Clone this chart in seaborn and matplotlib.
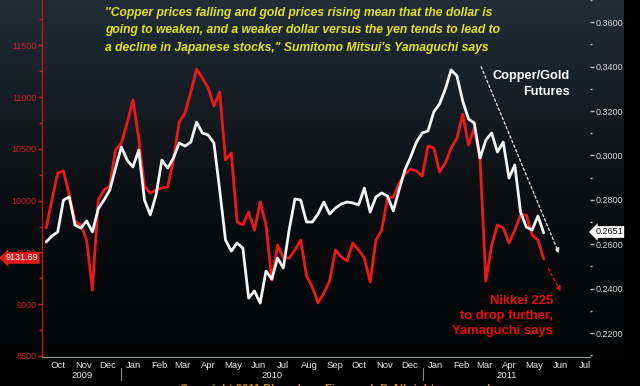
import numpy as np
import pandas as pd
import matplotlib
matplotlib.use("Agg")
import matplotlib.pyplot as plt
import matplotlib.dates as mdates
from matplotlib.colors import LinearSegmentedColormap
from matplotlib.ticker import MultipleLocator, FuncFormatter
import seaborn as sns

# weekly closes
start_date = "2009-10-02"
nikkei = [
    9736, 10006, 10266, 10286, 10054, 9803, 9765, 9620, 9137, 10006,
    10102, 10141, 10488, 10556, 10749, 10971, 10604, 10141, 10073, 10102,
    10122, 10131, 10392, 10759, 10846, 11048, 11270, 11184, 11087, 10913,
    11048, 10392, 10460, 9794, 9765, 9890, 9716, 9987, 9765, 9234,
    9571, 9446, 9446, 9523, 9620, 9272, 9166, 9012, 9108, 9224,
    9523, 9456, 9417, 9591, 9523, 9446, 9214, 9620, 9716, 10025,
    10035, 10170, 10257, 10305, 10286, 10238, 10527, 10508, 10276, 10363,
    10508, 10604, 10836, 10537, 10701, 10392, 9224, 9571, 9765, 9736,
    9591, 9716, 9861, 9861, 9668, 9620, 9436,
]
copper_gold = [
    0.2610, 0.2637, 0.2655, 0.2799, 0.2813, 0.2686, 0.2673, 0.2705, 0.2655, 0.2759,
    0.2799, 0.2844, 0.2943, 0.3038, 0.2979, 0.2948, 0.3024, 0.2799, 0.2732, 0.2822,
    0.2979, 0.2943, 0.2988, 0.3056, 0.3042, 0.3060, 0.3150, 0.3101, 0.3092, 0.3056,
    0.2844, 0.2619, 0.2569, 0.2605, 0.2583, 0.2358, 0.2389, 0.2335, 0.2479, 0.2443,
    0.2538, 0.2493, 0.2664, 0.2804, 0.2799, 0.2700, 0.2700, 0.2736, 0.2790, 0.2736,
    0.2763, 0.2781, 0.2790, 0.2786, 0.2777, 0.2853, 0.2745, 0.2813, 0.2831, 0.2817,
    0.2750, 0.2844, 0.2934, 0.2993, 0.3060, 0.3101, 0.3110, 0.3196, 0.3232, 0.3299,
    0.3385, 0.3358, 0.3245, 0.3164, 0.3146, 0.2988, 0.3069, 0.3101, 0.3015, 0.3060,
    0.2898, 0.2957, 0.2745, 0.2677, 0.2664, 0.2727, 0.2651,
]
nikkei_ticks = [8500, 9000, 9500, 10000, 10500, 11000, 11500]
ratio_ticks = [0.22, 0.24, 0.26, 0.28, 0.30, 0.32, 0.34, 0.36]
years = [2009, 2010, 2011]
last_nikkei_label = "9131.69"
last_ratio_label = "0.2651"

quote_lines = [
    "''Copper prices falling and gold prices rising mean that the dollar is",
    "going to weaken, and a weaker dollar versus the yen tends to lead to",
    "a decline in Japanese stocks,\" Sumitomo Mitsui's Yamaguchi says",
]

dates = pd.date_range(start_date, periods=len(nikkei), freq="7D")
df = pd.DataFrame({"date": dates, "nikkei": nikkei, "copper_gold": copper_gold})

sns.set_style("dark")
plt.rcParams["font.family"] = ["Liberation Sans", "DejaVu Sans"]

W, H = 640, 386
fig = plt.figure(figsize=(6.4, 3.86), dpi=100)
fig.patch.set_facecolor("black")


def px(x, y):
    return x / W, 1 - y / H


# dark gradient background
bg = fig.add_axes([0, 0, 624 / W, 1], zorder=-10)
cmap = LinearSegmentedColormap.from_list("bb", ["#222d36", "#0b0f13", "#000000"])
bg.imshow(np.linspace(0, 1, 256).reshape(-1, 1), cmap=cmap, aspect="auto",
          extent=[0, 1, 0, 1])
bg.set_axis_off()

ax = fig.add_axes([42 / W, 29 / H, 548 / W, 357 / H])
ax.patch.set_alpha(0)
ax2 = ax.twinx()
ax2.patch.set_alpha(0)

sns.lineplot(data=df, x="date", y="nikkei", ax=ax, color="#ea1a1c", linewidth=2)
sns.lineplot(data=df, x="date", y="copper_gold", ax=ax2, color="#f4f4f4", linewidth=2)

ax.set_xlim(pd.Timestamp("2009-09-27"), pd.Timestamp("2011-07-22"))
ax.set_ylim(8490, 11937)
ax2.set_ylim(0.2092, 0.3700)
for a in (ax, ax2):
    a.set_xlabel("")
    a.set_ylabel("")
    a.grid(False)
    for s in a.spines.values():
        s.set_visible(False)

ax.spines["left"].set_visible(True)
ax.spines["left"].set_color("#c01818")
ax.spines["left"].set_linewidth(1)
ax.spines["bottom"].set_visible(True)
ax.spines["bottom"].set_color("#8a8a8a")
ax.spines["bottom"].set_linewidth(1)

# left axis - Nikkei
ax.set_yticks(nikkei_ticks)
ax.yaxis.set_minor_locator(MultipleLocator(250))
ax.yaxis.set_major_formatter(FuncFormatter(lambda v, p: f"{v:.0f}"))
ax.tick_params(axis="y", which="both", direction="out", colors="#c81e1e",
               labelcolor="#d02222", labelsize=6.5, length=3, width=1, pad=1)
ax.tick_params(axis="y", which="minor", length=2)

# right axis - copper/gold
ax2.set_yticks(ratio_ticks)
ax2.yaxis.set_minor_locator(MultipleLocator(0.01))
ax2.yaxis.set_major_formatter(FuncFormatter(lambda v, p: f"{v:.4f}"))
ax2.tick_params(axis="y", which="both", direction="out", colors="#bfbfbf",
                labelcolor="#d8d8d8", labelsize=6.5, length=3, width=1, pad=1)
ax2.tick_params(axis="y", which="minor", length=1.5)

# months on x axis
ax.xaxis.set_major_locator(mdates.MonthLocator(bymonthday=16))
ax.xaxis.set_major_formatter(mdates.DateFormatter("%b"))
ax.xaxis.set_minor_locator(mdates.MonthLocator())
ax.tick_params(axis="x", which="major", length=0, labelsize=6.8,
               labelcolor="#e6e6e6", pad=3)
ax.tick_params(axis="x", which="minor", direction="out", length=2,
               color="#8a8a8a", width=0.8)

xmin, xmax = ax.get_xlim()
trans = ax.get_xaxis_transform()
for yr in years:
    lo = max(mdates.date2num(pd.Timestamp(f"{yr}-01-01")), xmin)
    hi = min(mdates.date2num(pd.Timestamp(f"{yr + 1}-01-01")), xmax)
    ax.text((lo + hi) / 2, -0.052, str(yr), transform=trans, ha="center",
            va="center", color="#e6e6e6", fontsize=6.8)
    if yr > years[0]:
        ax.plot([lo, lo], [-0.03, -0.065], transform=trans, color="#8a8a8a",
                lw=0.8, clip_on=False)

# quote
for i, line in enumerate(quote_lines):
    fig.text(*px(105, 13 + 17.5 * i), line, ha="left", va="center",
             color="#e2e21e", fontsize=8.7, fontweight="bold", fontstyle="italic")

fig.text(*px(570, 84), "Copper/Gold\nFutures", ha="right", va="center",
         color="white", fontsize=9.2, fontweight="bold", linespacing=1.35)
fig.text(*px(553, 316), "Nikkei 225\nto drop further,\nYamaguchi says",
         ha="right", va="center", color="#e80c0c", fontsize=9.4,
         fontweight="bold", linespacing=1.35)

ax.annotate("", xy=px(560, 256), xytext=px(480, 64), xycoords="figure fraction",
            textcoords="figure fraction",
            arrowprops=dict(arrowstyle="-|>", color="#e8e8e8", lw=0.9,
                            linestyle=(0, (2, 2)), mutation_scale=7))
ax.annotate("", xy=px(562, 294), xytext=px(547, 266), xycoords="figure fraction",
            textcoords="figure fraction",
            arrowprops=dict(arrowstyle="-|>", color="#e41010", lw=1,
                            linestyle=(0, (2, 2)), mutation_scale=7))

# last value tags
fig.text(*px(22, 258), last_nikkei_label, ha="center", va="center",
         color="white", fontsize=6.5, zorder=5,
         bbox=dict(boxstyle="larrow,pad=0.15", fc="#e01818", ec="none"))
fig.text(*px(609, 232), last_ratio_label, ha="center", va="center",
         color="black", fontsize=6.5, zorder=5,
         bbox=dict(boxstyle="larrow,pad=0.15", fc="white", ec="none"))

fig.text(*px(180, 389), "Copyright 2011 Bloomberg Finance L.P. All rights reserved.",
         ha="left", va="center", color="#d08a10", fontsize=8, fontweight="bold")

fig.savefig("out.png", dpi=100, facecolor=fig.get_facecolor())
